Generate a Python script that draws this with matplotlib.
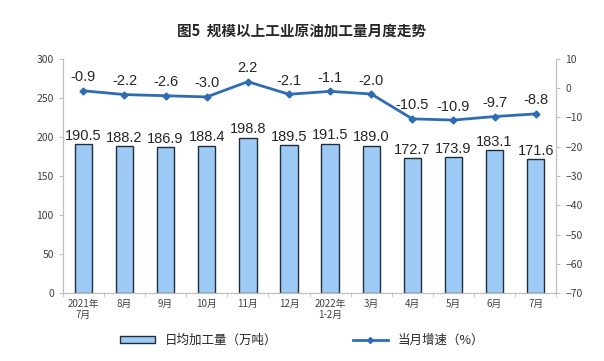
import numpy as np
import matplotlib
matplotlib.use('Agg')
import matplotlib.pyplot as plt
from matplotlib.lines import Line2D
from matplotlib.patches import Patch

plt.rcParams['font.family'] = ['Noto Sans CJK SC', 'DejaVu Sans']

months = ['2021年\n7月', '8月', '9月', '10月', '11月', '12月', '2022年\n1-2月',
          '3月', '4月', '5月', '6月', '7月']
daily_output = [190.5, 188.2, 186.9, 188.4, 198.8, 189.5, 191.5, 189.0,
                172.7, 173.9, 183.1, 171.6]
growth = [-0.9, -2.2, -2.6, -3.0, 2.2, -2.1, -1.1, -2.0, -10.5, -10.9, -9.7, -8.8]

BAR_COLOR = '#9DCBF5'
BAR_EDGE = '#1F2D3D'
LINE_COLOR = '#2E6DB4'
AXIS_GRAY = '#BFBFBF'
TEXT = '#404040'

fig = plt.figure(figsize=(6.04, 3.61), dpi=100)
ax = fig.add_axes([0.104, 0.188, 0.817, 0.649])
ax2 = ax.twinx()

x = np.arange(len(months))
ax.bar(x, daily_output, width=0.42, color=BAR_COLOR, edgecolor=BAR_EDGE, lw=1.0, zorder=2)
for xi, v in zip(x, daily_output):
    ax.text(xi, v + 2, '%.1f' % v, ha='center', va='bottom', fontsize=10.5,
            family='Liberation Sans', color='#262626')

ax2.plot(x, growth, '-', color=LINE_COLOR, lw=2, marker='D', ms=3.5, zorder=3)
for xi, v in zip(x, growth):
    ax2.text(xi, v + 2.2, '%.1f' % v, ha='center', va='bottom', fontsize=10.5,
             family='Liberation Sans', color='#262626')

ax.set_xlim(-0.5, len(months) - 0.5)
ax.set_ylim(0, 300)
ax.set_yticks(range(0, 301, 50))
ax2.set_ylim(-70, 10)
ax2.set_yticks(range(-70, 11, 10))

ax.set_xticks(x)
ax.set_xticklabels(months, fontsize=7, color=TEXT, linespacing=1.2)
ax.set_xticks(np.arange(-0.5, len(months), 1), minor=True)
ax.tick_params(axis='x', which='major', length=0, pad=4)
ax.tick_params(axis='x', which='minor', length=3, color=AXIS_GRAY)
ax.tick_params(axis='y', labelsize=7.5, colors=TEXT, length=3, color=AXIS_GRAY)
ax2.tick_params(axis='y', labelsize=7.5, colors=TEXT, length=3, color=AXIS_GRAY)

for a in (ax, ax2):
    a.spines['top'].set_visible(False)
    for s in ('left', 'right', 'bottom'):
        a.spines[s].set_color(AXIS_GRAY)

fig.text(0.5, 0.915, '图5  规模以上工业原油加工量月度走势', ha='center', va='center',
         fontsize=10.5, fontweight='bold', color='#262626')

handles = [Patch(facecolor=BAR_COLOR, edgecolor=BAR_EDGE, label='日均加工量（万吨）'),
           Line2D([0], [0], color=LINE_COLOR, lw=2, marker='D', ms=3, label='当月增速（%）')]
fig.legend(handles=handles, loc='center', bbox_to_anchor=(0.5, 0.058), ncol=2,
           frameon=False, fontsize=9, columnspacing=6, handlelength=2.8,
           handleheight=0.5, labelcolor='#262626')

fig.savefig('out.png', dpi=100)
